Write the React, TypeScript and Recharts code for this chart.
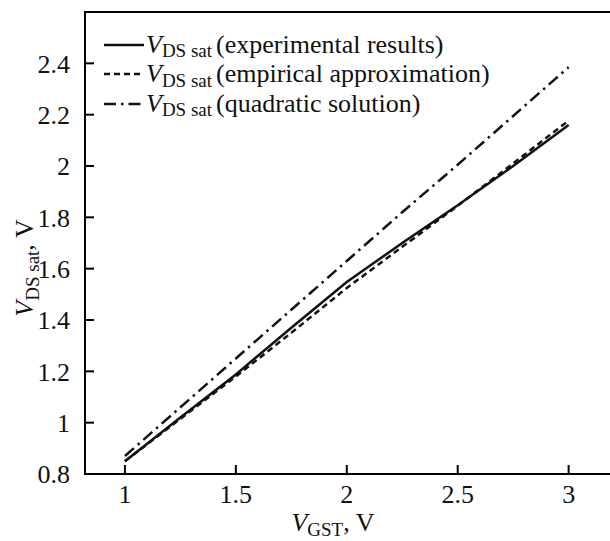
import React from 'react';
import { LineChart, Line, XAxis, YAxis, ReferenceArea, Legend } from 'recharts';

const vgst = [1, 1.25, 1.5, 1.75, 2, 2.25, 2.5, 2.75, 3];
const experimental = [0.85, 1.02, 1.188, 1.37, 1.548, 1.7, 1.847, 2.0, 2.16];
const empirical = [0.85, 1.015, 1.18, 1.35, 1.525, 1.685, 1.845, 2.01, 2.177];
const quadratic = [0.87, 1.06, 1.25, 1.44, 1.63, 1.82, 2.005, 2.195, 2.385];

const xTicks = [1, 1.5, 2, 2.5, 3];
const yTicks = [0.8, 1, 1.2, 1.4, 1.6, 1.8, 2, 2.2, 2.4];

const seriesKeys = ['exp', 'emp', 'quad'];
const seriesNames = ['(experimental results)', '(empirical approximation)', '(quadratic solution)'];
const seriesDash = ['', '6 4', '12 5 2.5 5'];

const data = vgst.map((x, i) => ({ x, exp: experimental[i], emp: empirical[i], quad: quadratic[i] }));

const FONT = '"Liberation Serif", "Times New Roman", serif';
const INK = '#111';

const XTick = (props: any) => {
  const { x, y, payload } = props;
  return (
    <g>
      <line x1={x} x2={x} y1={y - 11} y2={y - 20} stroke="#000" strokeWidth={2} />
      <text x={x} y={y} dy="0.71em" textAnchor="middle" fontSize={26} fontFamily={FONT} fill={INK}>
        {payload.value}
      </text>
    </g>
  );
};

const YTick = (props: any) => {
  const { x, y, payload } = props;
  return (
    <g>
      {payload.value > 0.8 && (
        <line x1={x + 15} x2={x + 24} y1={y} y2={y} stroke="#000" strokeWidth={2} />
      )}
      <text x={x} y={y} dy="0.355em" textAnchor="end" fontSize={26} fontFamily={FONT} fill={INK}>
        {payload.value}
      </text>
    </g>
  );
};

const XTitle = () => (
  <text x={333} y={531} textAnchor="middle" fontSize={26} fontFamily={FONT} fill={INK}>
    <tspan fontStyle="italic">V</tspan>
    <tspan fontSize={19} dy={5}>GST</tspan>
    <tspan dy={-5}>, V</tspan>
  </text>
);

const YTitle = () => (
  <text
    x={33}
    y={268}
    transform="rotate(-90, 33, 268)"
    textAnchor="middle"
    fontSize={26}
    fontFamily={FONT}
    fill={INK}
  >
    <tspan fontStyle="italic">V</tspan>
    <tspan fontSize={19} dy={6}>DS sat</tspan>
    <tspan dy={-6}>, V</tspan>
  </text>
);

const LegendContent = () => (
  <div style={{ fontFamily: FONT, fontSize: 26, color: INK }}>
    {seriesNames.map((name, i) => (
      <div key={name} style={{ display: 'flex', alignItems: 'center', height: 29.5, whiteSpace: 'nowrap' }}>
        <svg width={44} height={10} style={{ display: 'block' }}>
          <line
            x1={2}
            x2={42}
            y1={5}
            y2={5}
            stroke={INK}
            strokeWidth={2.5}
            strokeDasharray={seriesDash[i] || undefined}
          />
        </svg>
        <span style={{ fontStyle: 'italic', lineHeight: 1 }}>V</span>
        <span style={{ fontSize: 19, position: 'relative', top: 6, lineHeight: 1, marginRight: 4 }}>DS sat</span>
        <span style={{ lineHeight: 1 }}>{name}</span>
      </div>
    ))}
  </div>
);

export default function App() {
  return (
    <div style={{ position: 'absolute', left: 0, top: 0, width: 610, height: 541, overflow: 'hidden', background: '#fff' }}>
      <LineChart width={620} height={541} data={data} margin={{ top: 12, right: 7, bottom: 17, left: 25 }}>
        <ReferenceArea
          x1={0.82}
          x2={3.2}
          y1={0.8}
          y2={2.6}
          fill="none"
          stroke="#000"
          strokeWidth={2}
          ifOverflow="visible"
        />
        <XAxis
          dataKey="x"
          type="number"
          domain={[0.82, 3.2]}
          ticks={xTicks}
          tick={<XTick />}
          tickLine={false}
          tickSize={0}
          tickMargin={11}
          axisLine={{ stroke: '#000', strokeWidth: 2 }}
          height={50}
          interval={0}
          allowDataOverflow
          label={{ content: () => <XTitle /> }}
        />
        <YAxis
          type="number"
          domain={[0.8, 2.6]}
          ticks={yTicks}
          tick={<YTick />}
          tickLine={false}
          tickSize={0}
          tickMargin={15}
          axisLine={{ stroke: '#000', strokeWidth: 2 }}
          width={60}
          interval={0}
          allowDataOverflow
          label={{ content: () => <YTitle /> }}
        />
        <Legend
          layout="vertical"
          align="center"
          verticalAlign="middle"
          content={<LegendContent />}
          wrapperStyle={{ top: 30, left: 102, width: 460, height: 'auto' }}
        />
        {seriesKeys.map((k, i) => (
          <Line
            key={k}
            dataKey={k}
            name={seriesNames[i]}
            type="linear"
            stroke={INK}
            strokeWidth={2.5}
            strokeDasharray={seriesDash[i] || undefined}
            dot={false}
            activeDot={false}
            isAnimationActive={false}
          />
        ))}
      </LineChart>
    </div>
  );
}
